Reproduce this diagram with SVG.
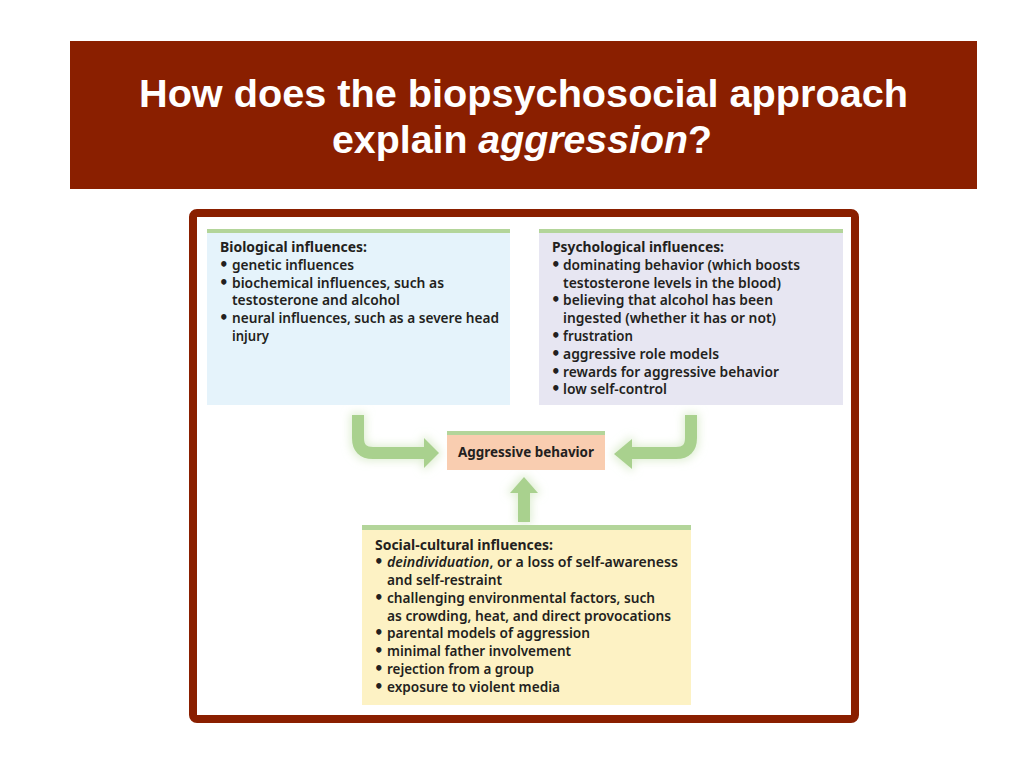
<svg xmlns="http://www.w3.org/2000/svg" width="1024" height="768" viewBox="0 0 1024 768">
<defs>
<style>
.title{font-family:"Liberation Sans",Arial,sans-serif;font-weight:bold;font-size:38px;fill:#ffffff}
.t{font-family:"Noto Sans","Open Sans",sans-serif;font-weight:600;font-size:14px;fill:#231f20}
.h{font-family:"Noto Sans","Open Sans",sans-serif;font-weight:700;font-size:14px;fill:#231f20}
.b{font-family:"DejaVu Sans",sans-serif;font-weight:bold;font-size:15px;fill:#231f20}
.bar{fill:#b3d59a}
.arr{fill:none;stroke:#a9d18e;stroke-width:12}
.head{fill:#a9d18e}
</style>
<filter id="glow" x="-30%" y="-30%" width="160%" height="160%">
<feMorphology in="SourceAlpha" operator="dilate" radius="2" result="d"/>
<feGaussianBlur in="d" stdDeviation="4" result="b"/>
<feFlood flood-color="#d3e8c2" flood-opacity="0.7"/>
<feComposite in2="b" operator="in" result="g"/>
<feMerge><feMergeNode in="g"/><feMergeNode in="SourceGraphic"/></feMerge>
</filter>
</defs>
<rect width="1024" height="768" fill="#ffffff"/>
<g id="banner">
<rect x="70" y="41" width="907" height="148" fill="#8a1f00"/>
<text class="title" x="139" y="107" textLength="769" lengthAdjust="spacingAndGlyphs">How does the biopsychosocial approach</text>
<text class="title" x="332" y="153" textLength="380" lengthAdjust="spacingAndGlyphs">explain <tspan font-style="italic">aggression</tspan>?</text>
</g>
<rect id="frame" x="193" y="213" width="662" height="506" rx="4" fill="#ffffff" stroke="#8a1f00" stroke-width="8"/>
<g id="connectors" filter="url(#glow)">
<path class="arr" d="M358,415 V438 Q358,453 373,453 H427"/>
<polygon class="head" points="424,438 439,453 424,468"/>
<path class="arr" d="M691,415 V438 Q691,453 676,453 H630"/>
<polygon class="head" points="632,439 614,454 632,469"/>
<path class="arr" d="M524,522 V490"/>
<polygon class="head" points="510,493 524,477 538,493"/>
</g>
<g id="biological">
<rect x="207" y="229" width="303" height="176" fill="#e5f3fb"/>
<rect class="bar" x="207" y="229" width="303" height="4"/>
<text class="h" x="220" y="252" textLength="147" lengthAdjust="spacingAndGlyphs">Biological influences:</text>
<text class="b" x="219" y="270">•</text><text class="t" x="232" y="270" textLength="122" lengthAdjust="spacingAndGlyphs">genetic influences</text>
<text class="b" x="219" y="288">•</text><text class="t" x="232" y="288" textLength="212" lengthAdjust="spacingAndGlyphs">biochemical influences, such as</text>
<text class="t" x="232" y="305" textLength="168" lengthAdjust="spacingAndGlyphs">testosterone and alcohol</text>
<text class="b" x="219" y="323">•</text><text class="t" x="232" y="323" textLength="267" lengthAdjust="spacingAndGlyphs">neural influences, such as a severe head</text>
<text class="t" x="232" y="341" textLength="37" lengthAdjust="spacingAndGlyphs">injury</text>
</g>
<g id="psychological">
<rect x="539" y="229" width="304" height="176" fill="#e7e6f2"/>
<rect class="bar" x="539" y="229" width="304" height="4"/>
<text class="h" x="552" y="252" textLength="172" lengthAdjust="spacingAndGlyphs">Psychological influences:</text>
<text class="b" x="551" y="270">•</text><text class="t" x="563" y="270" textLength="237" lengthAdjust="spacingAndGlyphs">dominating behavior (which boosts</text>
<text class="t" x="563" y="288" textLength="218" lengthAdjust="spacingAndGlyphs">testosterone levels in the blood)</text>
<text class="b" x="551" y="305">•</text><text class="t" x="563" y="305" textLength="210" lengthAdjust="spacingAndGlyphs">believing that alcohol has been</text>
<text class="t" x="563" y="323" textLength="213" lengthAdjust="spacingAndGlyphs">ingested (whether it has or not)</text>
<text class="b" x="551" y="341">•</text><text class="t" x="563" y="341" textLength="70" lengthAdjust="spacingAndGlyphs">frustration</text>
<text class="b" x="551" y="359">•</text><text class="t" x="563" y="359" textLength="156" lengthAdjust="spacingAndGlyphs">aggressive role models</text>
<text class="b" x="551" y="377">•</text><text class="t" x="563" y="377" textLength="216" lengthAdjust="spacingAndGlyphs">rewards for aggressive behavior</text>
<text class="b" x="551" y="394">•</text><text class="t" x="563" y="394" textLength="104" lengthAdjust="spacingAndGlyphs">low self-control</text>
</g>
<g id="aggressive-behavior">
<rect x="447" y="431" width="158" height="39" fill="#f9cdb0"/>
<rect class="bar" x="447" y="431" width="158" height="4"/>
<text class="h" x="458" y="457" textLength="136" lengthAdjust="spacingAndGlyphs">Aggressive behavior</text>
</g>
<g id="social-cultural">
<rect x="362" y="525" width="329" height="180" fill="#fdf2c4"/>
<rect class="bar" x="362" y="525" width="329" height="5"/>
<text class="h" x="375" y="550" textLength="178" lengthAdjust="spacingAndGlyphs">Social-cultural influences:</text>
<text class="b" x="374" y="567">•</text><text class="t" x="387" y="567" textLength="291" lengthAdjust="spacingAndGlyphs"><tspan font-style="italic">deindividuation</tspan>, or a loss of self-awareness</text>
<text class="t" x="387" y="585" textLength="115" lengthAdjust="spacingAndGlyphs">and self-restraint</text>
<text class="b" x="374" y="603">•</text><text class="t" x="387" y="603" textLength="268" lengthAdjust="spacingAndGlyphs">challenging environmental factors, such</text>
<text class="t" x="387" y="621" textLength="284" lengthAdjust="spacingAndGlyphs">as crowding, heat, and direct provocations</text>
<text class="b" x="374" y="638">•</text><text class="t" x="387" y="638" textLength="203" lengthAdjust="spacingAndGlyphs">parental models of aggression</text>
<text class="b" x="374" y="656">•</text><text class="t" x="387" y="656" textLength="184" lengthAdjust="spacingAndGlyphs">minimal father involvement</text>
<text class="b" x="374" y="674">•</text><text class="t" x="387" y="674" textLength="147" lengthAdjust="spacingAndGlyphs">rejection from a group</text>
<text class="b" x="374" y="692">•</text><text class="t" x="387" y="692" textLength="173" lengthAdjust="spacingAndGlyphs">exposure to violent media</text>
</g>
</svg>
